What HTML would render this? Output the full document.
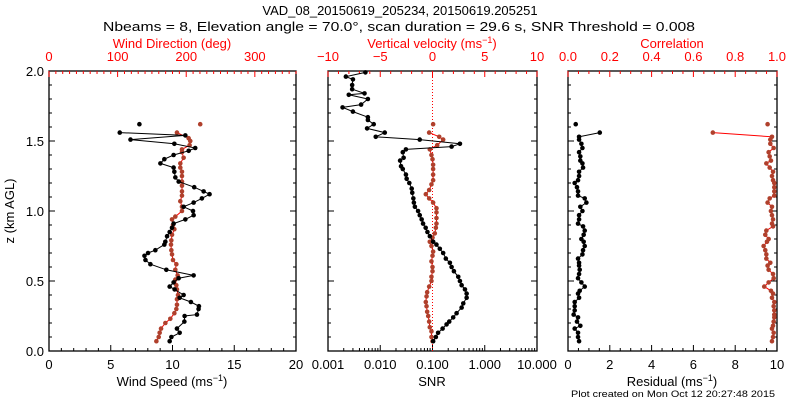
<!DOCTYPE html>
<html><head><meta charset="utf-8"><style>
html,body{margin:0;padding:0;background:#fff;}
svg{display:block;font-family:"Liberation Sans",sans-serif;}
</style></head><body>
<svg id="c" width="800" height="400" viewBox="0 0 800 400"></svg>
<script>
// ---- data ----
const wsZ=[.07,.10,.13,.16,.21,.25,.26,.30,.32,.35,.38,.40,.44,.46,.49,.52,.54,.58,.62,.65,.68,.70,.72,.76,.78,.82,.85,.88,.91,.94,.97,1.00,1.03,1.06,1.09,1.12,1.14,1.17,1.21,1.24,1.28,1.31,1.34,1.37,1.40,1.43,1.45,1.48,1.51,1.54,1.56,1.62];
const windSpeed=[9.77,9.91,10.58,10.36,10.96,10.98,11.98,12.11,12.14,11.49,10.58,10.90,10.17,9.77,10.09,10.50,11.71,9.50,8.21,7.81,7.73,8.02,8.61,9.34,9.42,9.56,9.77,9.96,10.09,11.04,11.71,11.66,10.90,11.71,12.38,13.0,12.52,11.76,10.5,10.23,10.15,10.09,9.02,9.34,10.09,11.31,11.84,10.15,6.60,11.04,5.73,7.32];
const wdZ=[.07,.10,.13,.16,.20,.23,.27,.30,.33,.37,.40,.44,.47,.51,.54,.58,.62,.65,.69,.72,.76,.79,.83,.87,.90,.94,.96,1.00,1.03,1.07,1.11,1.14,1.18,1.21,1.25,1.28,1.31,1.34,1.38,1.42,1.44,1.47,1.50,1.52,1.56,1.62];
const windDir=[156.5,159.9,161.3,163.3,169.6,176.8,182.7,185.6,186.5,186.5,188,186.5,185.6,184.1,187.5,184.1,185.6,180.7,179.3,178.3,177.8,178.3,179.3,182.7,180.7,179.3,184.1,193.8,193.8,191.4,193.8,193.8,193.8,193.8,193.8,193.8,191.4,191.4,196.2,193.8,193.8,204.9,205.9,203.5,186.5,220.4];
const snrZ=[.07,.10,.13,.16,.19,.21,.24,.27,.31,.34,.38,.41,.44,.47,.50,.53,.57,.60,.63,.66,.70,.73,.76,.78,.82,.85,.88,.91,.94,.97,1.00,1.03,1.06,1.09,1.13,1.16,1.20,1.23,1.26,1.30,1.32,1.36,1.38,1.42,1.44,1.46,1.48,1.51,1.53,1.56,1.59,1.62,1.65,1.67,1.71,1.74,1.76,1.80,1.83,1.84,1.87,1.90,1.94,1.96,1.99];
const snr=[.103,.116,.128,.156,.186,.209,.249,.289,.361,.388,.450,.450,.418,.361,.335,.311,.257,.232,.215,.180,.160,.138,.119,.103,.089,.080,.074,.066,.062,.057,.053,.046,.044,.043,.041,.040,.036,.032,.031,.027,.025,.024,.028,.027,.031,.232,.335,.057,.0082,.0122,.0056,.0075,.0058,.0058,.0030,.0019,.0043,.0058,.0025,.0050,.0029,.0029,.0030,.0022,.0052];
const wZ=[.07,.10,.14,.17,.21,.25,.28,.32,.35,.39,.42,.46,.50,.53,.57,.60,.64,.68,.71,.75,.78,.81,.84,.88,.91,.95,.99,1.02,1.06,1.09,1.12,1.15,1.19,1.22,1.26,1.30,1.33,1.37,1.40,1.44,1.47,1.51,1.53,1.56,1.62];
const vertVel=[0,-.10,-.10,-.26,-.32,-.41,-.51,-.57,-.64,-.57,-.51,-.32,-.10,-.10,0,0,-.10,0,.06,-.10,-.26,0,.22,.32,.38,.38,.38,.38,.06,-.32,-.64,-.32,-.10,.06,.06,.06,.06,0,-.10,-.26,.45,1.02,.64,-.32,.06];
const rZ=[.07,.10,.13,.16,.18,.21,.24,.26,.29,.32,.35,.38,.41,.43,.46,.49,.52,.55,.58,.61,.63,.66,.69,.72,.75,.78,.80,.83,.86,.89,.91,.94,.97,1.00,1.03,1.06,1.09,1.11,1.14,1.17,1.20,1.22,1.25,1.28,1.31,1.34,1.36,1.39,1.42,1.45,1.48,1.51,1.53,1.56,1.62];
const residual=[.53,.48,.48,.32,.59,.43,.48,.27,.32,.32,.32,.53,.48,.56,.80,.64,.48,.53,.56,.53,.53,.48,.69,.72,.80,.75,.64,.75,.80,.72,.48,.53,.53,.69,.59,.88,.80,.48,.48,.43,.32,.48,.53,.53,.72,.69,.59,.59,.53,.69,.64,.53,.53,1.52,.37];
const correlation=[.976,.981,.984,.976,.981,.984,.987,.987,.987,.984,.987,.976,.981,.971,.939,.960,.984,.981,.960,.955,.968,.949,.949,.944,.936,.952,.960,.944,.949,.981,.976,.981,.976,.971,.976,.955,.965,.987,.987,.987,.987,.981,.976,.981,.965,.949,.971,.965,.960,.984,.968,.968,.976,.693,.955];
const zTicks=["0.0","0.5","1.0","1.5","2.0"];

const NS="http://www.w3.org/2000/svg";
const svg=document.getElementById('c');
const RED="#ff0000", BR="#b0402c";
function el(t,a,p){const e=document.createElementNS(NS,t);for(const k in a)e.setAttribute(k,a[k]);(p||svg).appendChild(e);return e;}
function txt(s,x,y,a,p){const e=el('text',Object.assign({x:x,y:y,'text-anchor':'middle','font-size':13},a),p);e.textContent=s;return e;}
const T=71,B=351;
const yS=z=>B-(B-T)*z/2;
const P=[{l:49,r:296},{l:328,r:537},{l:568,r:777}];
function lin(p,a,b){return v=>p.l+(p.r-p.l)*(v-a)/(b-a);}
function logS(p){return v=>p.l+(p.r-p.l)*(Math.log10(v)+3)/4;}

function frame(p,name){
  const g=el('g',{},svg);
  
  
  el('rect',{x:p.l,y:T,width:p.r-p.l,height:B-T,fill:'none',stroke:'#000','stroke-width':1.3},g);
  for(let i=0;i<=20;i++){const y=yS(i*0.1);const L=i%5==0?6:3;
    el('line',{x1:p.l,x2:p.l+L,y1:y,y2:y,stroke:'#000'},g);
    el('line',{x1:p.r,x2:p.r-L,y1:y,y2:y,stroke:'#000'},g);}
  return g;
}
function xTicksLin(p,sc,a,b,minor,major,top,col,labels,fmt,name){
  const g=el('g',{},svg);
  
  
  const y0=top?T:B, d=top?1:-1;
  const n=Math.round((b-a)/minor);
  for(let i=0;i<=n;i++){const v=a+i*minor;const x=sc(v);
    const isM=Math.abs(v/major-Math.round(v/major))<1e-6;
    el('line',{x1:x,x2:x,y1:y0,y2:y0+d*(isM?6:3),stroke:col},g);}
  labels.forEach(v=>{const t=txt(fmt(v),sc(v),top?61:369,{fill:col},g);});
}
// titles
const t1=txt("VAD_08_20150619_205234, 20150619.205251",400,15,{});

const t2=txt("Nbeams = 8, Elevation angle = 70.0\u00b0, scan duration = 29.6 s, SNR Threshold = 0.008",399,31,{textLength:592,lengthAdjust:'spacingAndGlyphs'});


// panel 1
frame(P[0],'wind-panel');
const sWS=lin(P[0],0,20), sWD=lin(P[0],0,360);
xTicksLin(P[0],sWS,0,20,1,5,false,'#000',[0,5,10,15,20],v=>String(v),'wind-speed-axis');
xTicksLin(P[0],sWD,0,360,10,100,true,RED,[0,100,200,300],v=>String(v),'wind-direction-axis');
zTicks.forEach((s,i)=>{const t=txt(s,44,yS(i*0.5)+5,{'text-anchor':'end'});});
const yt=txt("z (km AGL)",14,211,{transform:'rotate(-90 14 211)'});

const wdt=txt("Wind Direction (deg)",172,48,{fill:RED});

const wst=el('text',{x:172,y:386,'text-anchor':'middle','font-size':13});
wst.innerHTML='Wind Speed (ms<tspan dy="-5" font-size="9">\u22121</tspan><tspan dy="5">)</tspan>';


// panel 2
frame(P[1],'snr-panel');
const sV=lin(P[1],-10,10), sS=logS(P[1]);
xTicksLin(P[1],sV,-10,10,1,5,true,RED,[-10,-5,0,5,10],v=>v<0?'\u2212'+(-v):String(v),'vertical-velocity-axis');
(function(){const g=el('g',{});
  for(let d=-3;d<1;d++)for(let m=1;m<=9;m++){const x=sS(m*Math.pow(10,d));el('line',{x1:x,x2:x,y1:B,y2:B-(m==1?6:3),stroke:'#000'},g);}
  ["0.001","0.010","0.100","1.000","10.000"].forEach((s,i)=>txt(s,sS(Math.pow(10,i-3)),369,{},g));})();
el('line',{x1:sV(0),x2:sV(0),y1:T,y2:B,stroke:RED,'stroke-dasharray':'1,2'});
const vvt=el('text',{x:432,y:48,'text-anchor':'middle','font-size':13,fill:RED});
vvt.innerHTML='Vertical velocity (ms<tspan dy="-5" font-size="9">\u22121</tspan><tspan dy="5">)</tspan>';

const snt=txt("SNR",432,386,{});

// panel 3
frame(P[2],'residual-panel');
const sR=lin(P[2],0,10), sC=lin(P[2],0,1);
xTicksLin(P[2],sR,0,10,0.5,2,false,'#000',[0,2,4,6,8,10],v=>String(v),'residual-axis');
xTicksLin(P[2],sC,0,1,0.05,0.2,true,RED,[0,.2,.4,.6,.8,1],v=>v.toFixed(1),'correlation-axis');
const cot=txt("Correlation",672,48,{fill:RED});
const ret=el('text',{x:672,y:386,'text-anchor':'middle','font-size':13});
ret.innerHTML='Residual (ms<tspan dy="-5" font-size="9">\u22121</tspan><tspan dy="5">)</tspan>';

const pc=txt("Plot created on Mon Oct 12 20:27:48 2015",673,397,{'font-size':9.5,textLength:204,lengthAdjust:'spacingAndGlyphs'});


function series(zs,vs,sc,col,lineCol,name,skipLast){
  const g=el('g',{});
  
  
  const n=Math.min(zs.length,vs.length);const m=skipLast?n-1:n;
  let d='';for(let i=0;i<m;i++)d+=(i?'L':'M')+sc(vs[i]).toFixed(1)+' '+yS(zs[i]).toFixed(1);
  el('path',{d:d,fill:'none',stroke:lineCol,'stroke-width':1},g);
  for(let i=0;i<n;i++){const c=el('circle',{cx:sc(vs[i]),cy:yS(zs[i]),r:2.3,fill:col},g);
    
    }
}
series(wdZ,windDir,sWD,BR,RED,'wind-direction-series',true);
series(wsZ,windSpeed,sWS,'#000','#000','wind-speed-series',true);
series(wZ,vertVel,sV,BR,RED,'vertical-velocity-series',true);
series(snrZ,snr,sS,'#000','#000','snr-series',false);
series(rZ,correlation,sC,BR,RED,'correlation-series',true);
series(rZ,residual,sR,'#000','#000','residual-series',true);
</script>
</body></html>
